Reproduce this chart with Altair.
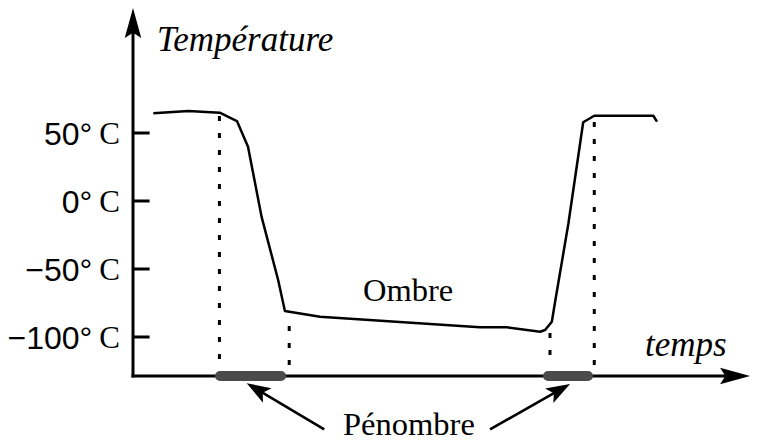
import altair as alt
import pandas as pd

# ---- data (time in arbitrary units, temperature in °C)
curve_time = [3.3, 9.0, 14.1, 16.9, 18.7, 20.9, 23.6, 24.7, 30.4, 44.0, 56.4,
              60.8, 66.2, 67.0, 68.1, 68.6, 70.8, 73.2, 75.0, 84.6, 85.2]
curve_temp = [64.5, 66.2, 64.9, 58.8, 39.9, -11.5, -58.1, -80.9, -85.1, -89.2, -92.9,
              -92.9, -96.1, -94.9, -88.8, -75.0, -16.4, 57.9, 62.7, 62.7, 58.3]

tick_values = [50, 0, -50, -100]
tick_numbers = ["50°", "0°", "−50°", "−100°"]
tick_units = ["C", "C", "C", "C"]

pen_start = [14.15, 67.48]
pen_end = [24.07, 73.98]

guide_time = [14.05, 25.4, 67.8, 75.0]
guide_top = [62.5, -91.9, -97.1, 58.1]
guide_bottom = [-120.6, -120.6, -120.6, -120.6]

axis_temp = -128.7      # temperature level of the time axis
y_arrow = 130.9         # centre of the y-axis arrowhead
x_arrow = 97.89         # centre of the x-axis arrowhead

xs = alt.Scale(domain=[-20.325, 100.81], nice=False, zero=False)
ys = alt.Scale(domain=[-178.68, 141.91], nice=False, zero=False)


def X(f, **k):
    return alt.X(f, type="quantitative", scale=xs, axis=None, **k)


def Y(f, **k):
    return alt.Y(f, type="quantitative", scale=ys, axis=None, **k)


# axes
axes_df = pd.DataFrame({
    "t": [0, 0], "t2": [0, x_arrow],
    "T": [axis_temp, axis_temp], "T2": [y_arrow, axis_temp],
})
axes = alt.Chart(axes_df).mark_rule(color="black", strokeWidth=3, strokeCap="square").encode(
    x=X("t"), x2="t2", y=Y("T"), y2="T2")

arrow_path = "M0,-1L0.55,1L0,0.65L-0.55,1Z"
axis_heads_df = pd.DataFrame({"t": [0, x_arrow], "T": [y_arrow, axis_temp], "ang": [0, 90]})
axis_heads = alt.Chart(axis_heads_df).mark_point(
    shape=arrow_path, filled=True, color="black", size=900, opacity=1, strokeWidth=0
).encode(x=X("t"), y=Y("T"), angle=alt.Angle("ang:Q", scale=None))

ticks_df = pd.DataFrame({"T": tick_values, "num": tick_numbers, "unit": tick_units})
ticks = alt.Chart(ticks_df).transform_calculate(t0="0", t1="2.7").mark_rule(
    color="black", strokeWidth=3).encode(x=X("t0:Q"), x2="t1:Q", y=Y("T"))

num_labels = alt.Chart(ticks_df).transform_calculate(tx="-6.6").mark_text(
    align="right", baseline="alphabetic", dy=12, font="Liberation Sans", fontSize=32,
    color="black"
).encode(x=X("tx:Q"), y=Y("T"), text="num")
unit_labels = alt.Chart(ticks_df).transform_calculate(tx="-5.5").mark_text(
    align="left", baseline="alphabetic", dy=11, font="Liberation Serif", fontSize=31, color="black"
).encode(x=X("tx:Q"), y=Y("T"), text="unit")

# penumbra bars
pen_df = pd.DataFrame({"a": pen_start, "b": pen_end, "T": [axis_temp] * 2})
pen = alt.Chart(pen_df).mark_rule(color="#4b4b4b", strokeWidth=10, strokeCap="round").encode(
    x=X("a"), x2="b", y=Y("T"))

# dotted guides
guide_df = pd.DataFrame({"t": guide_time, "top": guide_top, "bot": guide_bottom})
guides = alt.Chart(guide_df).mark_rule(color="black", strokeWidth=3, strokeDash=[5, 12]).encode(
    x=X("t"), y=Y("top"), y2="bot")

# the temperature curve
curve_df = pd.DataFrame({"t": curve_time, "T": curve_temp})
curve = alt.Chart(curve_df).mark_line(color="black", strokeWidth=2.5, strokeJoin="round").encode(
    x=X("t"), y=Y("T"))

# texts
italic_df = pd.DataFrame({"t": [3.9, 83.25], "T": [110.3, -114.0], "txt": ["Température", "temps"]})
italic = alt.Chart(italic_df).mark_text(
    align="left", baseline="alphabetic", font="Liberation Serif", fontStyle="italic",
    fontSize=35, color="black").encode(x=X("t"), y=Y("T"), text="txt")

plain_df = pd.DataFrame({"t": [37.4, 34.15], "T": [-73.5, -172.1], "txt": ["Ombre", "Pénombre"]})
plain = alt.Chart(plain_df).mark_text(
    align="left", baseline="alphabetic", font="Liberation Serif", fontSize=32.5,
    color="black").encode(x=X("t"), y=Y("T"), text="txt")

# pénombre arrows
shaft_df = pd.DataFrame({"t": [31.09, 58.05], "T": [-167.9, -167.9],
                         "t2": [20.16, 69.37], "T2": [-138.5, -138.9]})
shafts = alt.Chart(shaft_df).mark_rule(color="black", strokeWidth=2.6).encode(
    x=X("t"), y=Y("T"), x2="t2", y2="T2")
heads_df = pd.DataFrame({"t": [20.16, 69.37], "T": [-138.5, -138.9], "ang": [300.7, 60.5]})
heads = alt.Chart(heads_df).mark_point(
    shape="M0,-1L0.7,1L0,0.55L-0.7,1Z", filled=True, color="black", size=576, opacity=1,
    strokeWidth=0).encode(x=X("t"), y=Y("T"), angle=alt.Angle("ang:Q", scale=None))

chart = alt.layer(
    axes, axis_heads, ticks, pen, guides, curve, num_labels, unit_labels,
    italic, plain, shafts, heads
).properties(
    width=745, height=436, padding=0, autosize="none", background="white"
).configure_view(stroke=None)

chart.save("out.html", embed_options={"renderer": "svg", "actions": False})
